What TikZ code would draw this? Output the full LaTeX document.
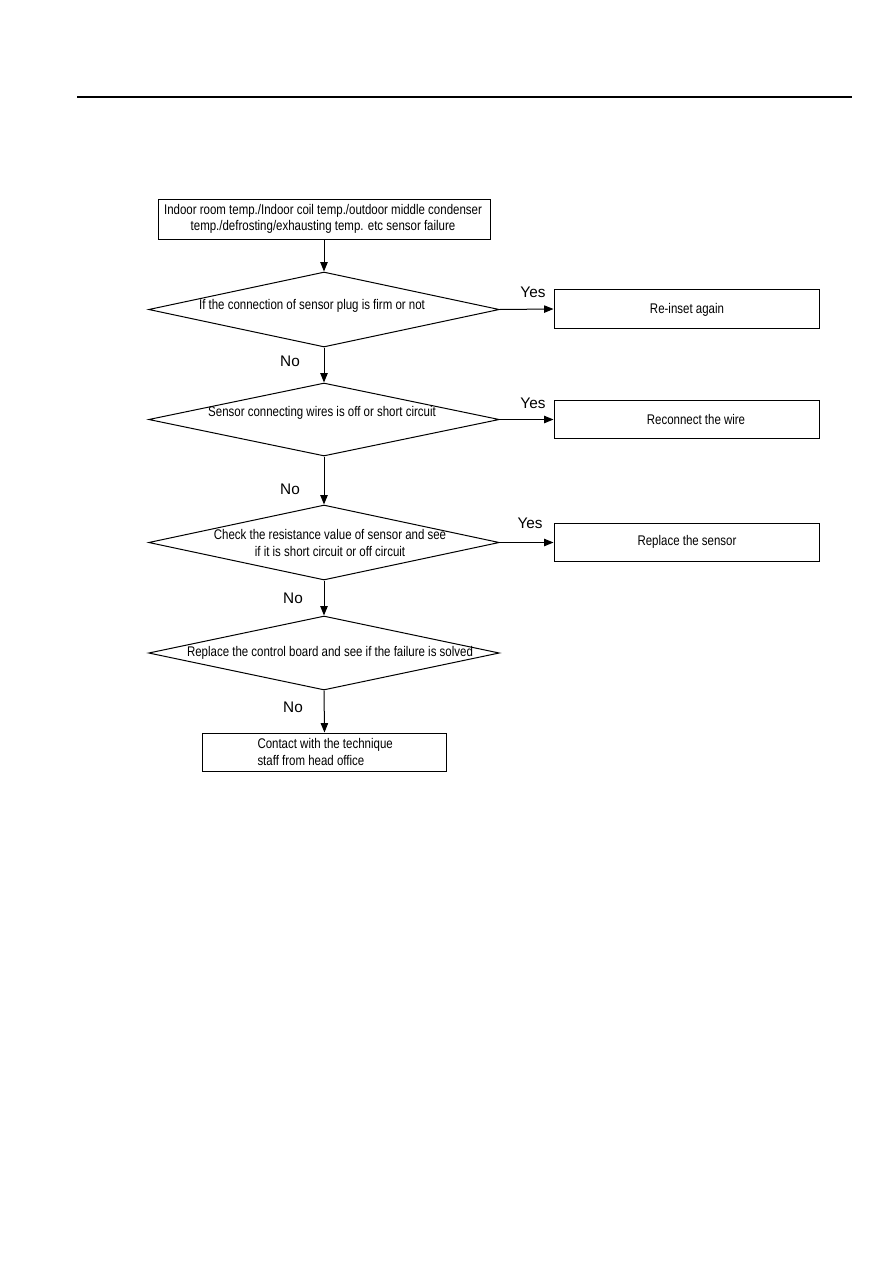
\documentclass[tikz,border=0pt]{standalone}
\usepackage{fontspec}
\setmainfont{Liberation Sans}
\newfontfamily\narrowfont[FakeStretch=0.82]{Liberation Sans}
\usetikzlibrary{shapes.geometric,arrows.meta}
\begin{document}
\begin{tikzpicture}[x=0.75pt,y=-0.75pt,
  line width=0.75pt,
  box/.style={draw, rectangle, inner sep=0pt},
  dia/.style={draw, diamond, inner sep=0pt},
  txt/.style={font=\narrowfont\fontsize{10.5pt}{12.3pt}\selectfont, align=center, inner sep=0pt},
  lbl/.style={font=\fontsize{11.5pt}{13pt}\selectfont, inner sep=0pt},
  arr/.style={-{Triangle[length=7pt,width=5.5pt]}}
]
\useasboundingbox[fill=white] (0,0) rectangle (893,1263);
\draw[line width=1.6pt] (77,97) coordinate (hl) -- (852,97) coordinate (hr);

% start box
\node[box, minimum width=249pt, minimum height=30pt] (start) at (324,219) {};
\node[txt] (starttxt) at (323,219) {Indoor room temp./Indoor coil temp./outdoor middle condenser\\temp./defrosting/exhausting temp. etc sensor failure};

% diamond 1
\node[dia, minimum width=263pt, minimum height=56.25pt] (d1) at (324,309.5) {};
\node[txt] (d1t) at (312,306) {If the connection of sensor plug is firm or not};
\node[box, minimum width=198.75pt, minimum height=29pt] (b1) at (686.5,309) {};
\node[txt] (b1t) at (687,310) {Re-inset again};

% diamond 2
\node[dia, minimum width=263pt, minimum height=54.75pt] (d2) at (324,419.5) {};
\node[txt] (d2t) at (322,413) {Sensor connecting wires is off or short circuit};
\node[box, minimum width=198.75pt, minimum height=29pt] (b2) at (686.5,419.5) {};
\node[txt] (b2t) at (696,419) {Reconnect the wire};

% diamond 3
\node[dia, minimum width=263pt, minimum height=56.25pt] (d3) at (324,542.5) {};
\node[txt] (d3t) at (330,543) {Check the resistance value of sensor and see\\if it is short circuit or off circuit};
\node[box, minimum width=198.75pt, minimum height=29pt] (b3) at (686.5,542.5) {};
\node[txt] (b3t) at (687,542) {Replace the sensor};

% diamond 4
\node[dia, minimum width=263pt, minimum height=55.5pt] (d4) at (324,653) {};
\node[txt] (d4t) at (330,653) {Replace the control board and see if the failure is solved};

% end box
\node[box, minimum width=183pt, minimum height=28.5pt] (end) at (324.5,752) {};
\node[txt, align=left, anchor=west] (endt) at (257,752) {Contact with the technique\\staff from head office};

% connectors
\draw[arr] (start.south) -- (d1.north);
\draw[arr] (d1.south) -- (d2.north);
\draw[arr] (d2.south) -- (d3.north);
\draw[arr] (d3.south) -- (d4.north);
\draw[arr] (d4.south) -- (end.north);
\draw[arr] (d1.east) -- (b1.west);
\draw[arr] (d2.east) -- (b2.west);
\draw[arr] (d3.east) -- (b3.west);

% labels
\node[lbl] (y1) at (533,292) {Yes};
\node[lbl] (y2) at (533,403) {Yes};
\node[lbl] (y3) at (530,523) {Yes};
\node[lbl] (n1) at (290,361) {No};
\node[lbl] (n2) at (290,489) {No};
\node[lbl] (n3) at (293,598) {No};
\node[lbl] (n4) at (293,707) {No};
\end{tikzpicture}
\end{document}
